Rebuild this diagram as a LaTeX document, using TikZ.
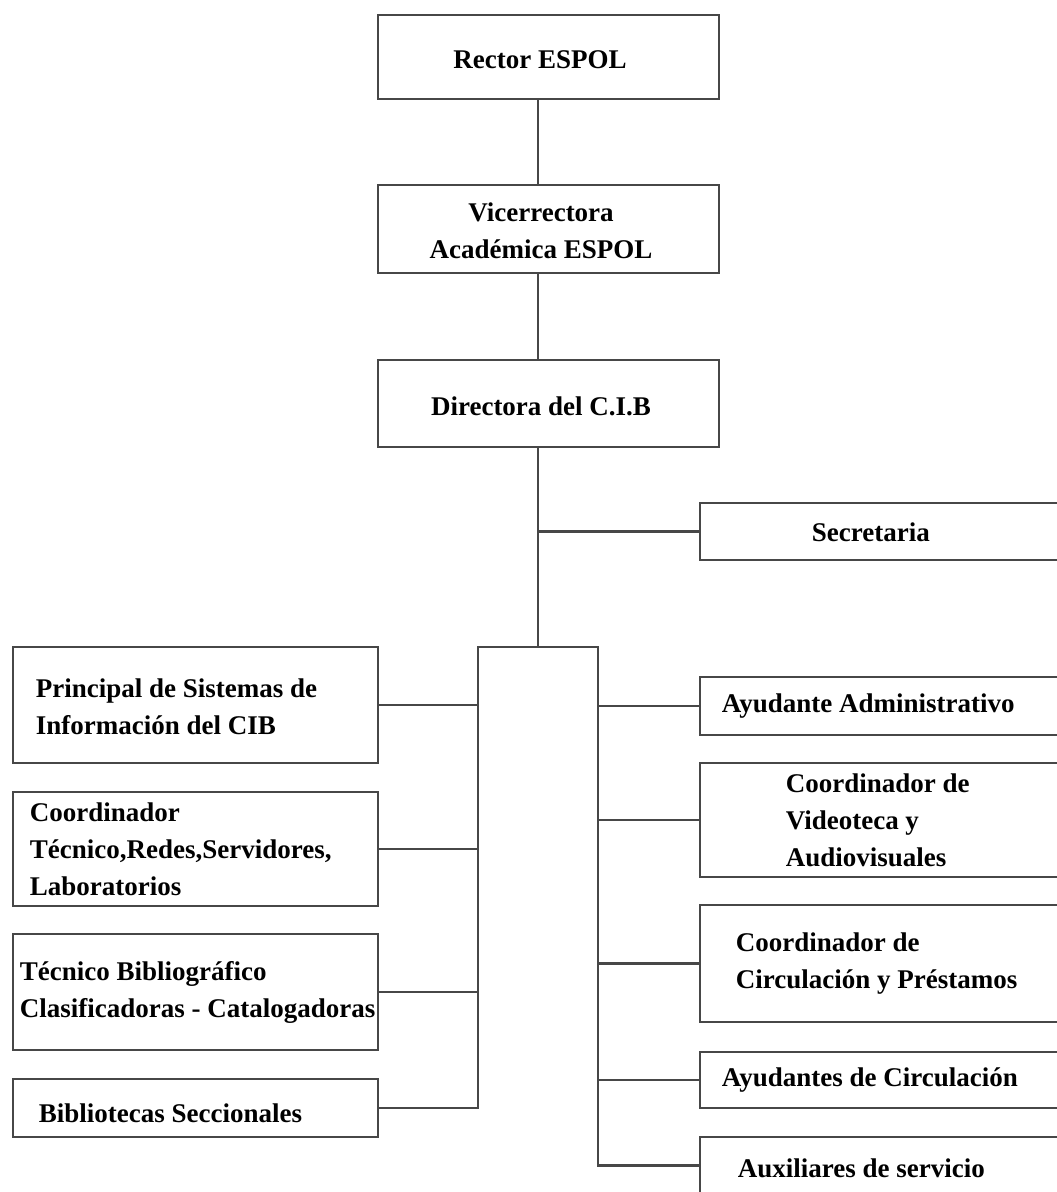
\documentclass[tikz,border=0pt]{standalone}
\usepackage{fontspec}
\setmainfont{Liberation Serif}
\usetikzlibrary{positioning}
\definecolor{linegray}{HTML}{474747}
\tikzset{
    conn/.style={draw=linegray, line width=2.8pt},
    box/.style={draw=linegray, line width=2.8pt, rectangle, inner sep=0pt},
    cbox/.style={box, minimum width=341pt},
    lbox/.style={box, minimum width=365pt},
    rbox/.style={box, minimum width=380pt},
    txt/.style={font=\bfseries\fontsize{27}{37}\selectfont, align=left, inner sep=0pt}
}

\begin{document}
\begin{tikzpicture}[x=1pt, y=-1pt, line join=miter]
            \useasboundingbox (0,0) rectangle (1057,1192);
            \clip (0,0) rectangle (1057,1192);

            \coordinate (top) at (538,647);
            \coordinate (busl) at (478,647);
            \coordinate (busr) at (598,647);

            \node [cbox, minimum height=84pt] (rector) at (548.5,57) {};
            \node [cbox, minimum height=88pt] (vice) at (548.5,229) {};
            \node [cbox, minimum height=87pt] (dir) at (548.5,403.5) {};
            \node [rbox, minimum height=57pt] (sec) at (890,531.5) {};

            \node [lbox, minimum height=116pt] (psi) at (195.5,705) {};
            \node [lbox, minimum height=114pt] (tec) at (195.5,849) {};
            \node [lbox, minimum height=116pt] (bibl) at (195.5,992) {};
            \node [lbox, minimum height=58pt] (secc) at (195.5,1108) {};

            \node [rbox, minimum height=58pt] (adm) at (890,706) {};
            \node [rbox, minimum height=114pt] (video) at (890,820) {};
            \node [rbox, minimum height=117pt] (circ) at (890,963.5) {};
            \node [rbox, minimum height=56pt] (ayc) at (890,1080) {};
            \node [rbox, minimum height=57pt] (aux) at (890,1165.5) {};

            \node [txt, align=center] (rector-t) at (540,60) {Rector ESPOL};
            \node [txt, align=center] (vice-t) at (541,231) {Vicerrectora\\Académica ESPOL};
            \node [txt, align=center] (dir-t) at (541,406) {Directora del C.I.B};
            \node [txt, right=113pt of sec.west, yshift=-1pt] (sec-t) {Secretaria};

            \node [txt, right=24pt of psi.west, yshift=-2pt] (psi-t) {Principal de Sistemas de\\Información del CIB};
            \node [txt, right=18pt of tec.west] (tec-t) {Coordinador\\Técnico,Redes,Servidores,\\Laboratorios};
            \node [txt, right=8pt of bibl.west] (bibl-t) {Técnico Bibliográfico\\Clasificadoras - Catalogadoras};
            \node [txt, right=27pt of secc.west, yshift=-5pt] (secc-t) {Bibliotecas Seccionales};

            \node [txt, right=23pt of adm.west] (adm-t) {Ayudante Administrativo};
            \node [txt, right=87pt of video.west] (video-t) {Coordinador de\\Videoteca y\\Audiovisuales};
            \node [txt, right=37pt of circ.west] (circ-t) {Coordinador de\\Circulación y Préstamos};
            \node [txt, right=23pt of ayc.west] (ayc-t) {Ayudantes de Circulación};
            \node [txt, right=39pt of aux.west, yshift=-3pt] (aux-t) {Auxiliares de servicio};

            \draw [conn] (rector.south -| top) -- (vice.north -| top);
            \draw [conn] (vice.south -| top) -- (dir.north -| top);
            \draw [conn] (dir.south -| top) -- (top);
            \draw [conn] (sec.west -| top) -- (sec.west);

            \draw [conn] (secc.east) -- (busl |- secc.east) -- (busl) -- (busr) -- (busr |- aux.west) -- (aux.west);
            \draw [conn] (psi.east) -- (psi.east -| busl);
            \draw [conn] (tec.east) -- (tec.east -| busl);
            \draw [conn] (bibl.east) -- (bibl.east -| busl);

            \draw [conn] (adm.west -| busr) -- (adm.west);
            \draw [conn] (video.west -| busr) -- (video.west);
            \draw [conn] (circ.west -| busr) -- (circ.west);
            \draw [conn] (ayc.west -| busr) -- (ayc.west);
        \end{tikzpicture}
\end{document}
